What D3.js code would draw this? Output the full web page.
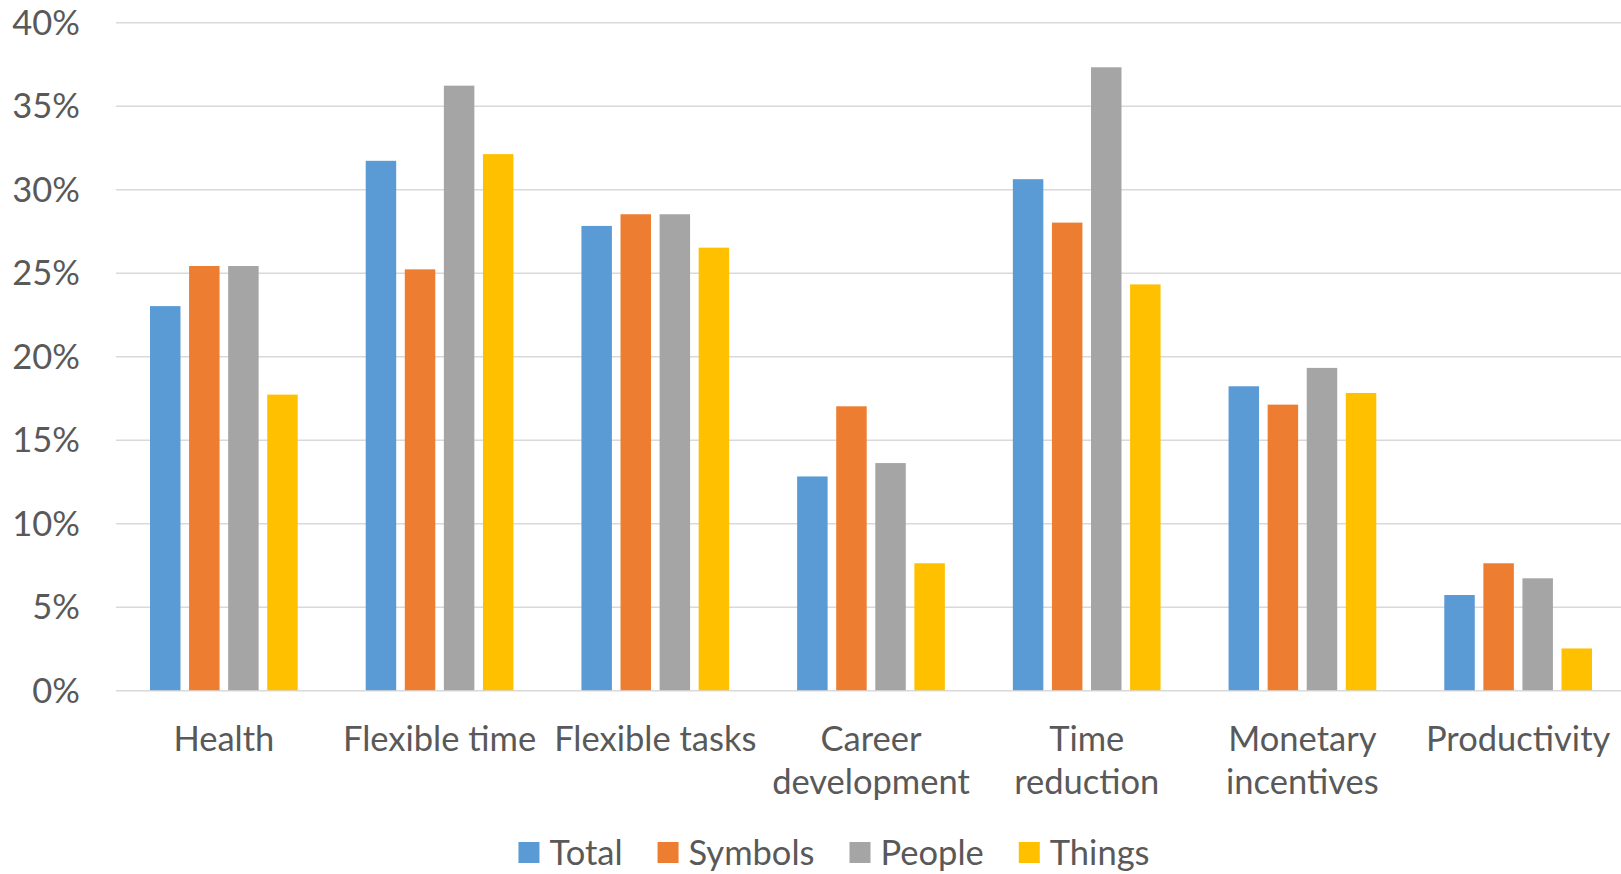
<!DOCTYPE html>
<html>
<head>
<meta charset="utf-8">
<script src="https://cdn.jsdelivr.net/npm/d3@7"></script>
<style>
  html, body { margin: 0; padding: 0; background: #fff; }
  svg { display: block; }
  text { font-family: Lato, "Open Sans", sans-serif; fill: #595959; }
</style>
</head>
<body>
<svg id="chart" width="1621" height="874"></svg>
<script>
// Categories (x axis), two-line labels split on "\n"
const categories = [
  "Health",
  "Flexible time",
  "Flexible tasks",
  "Career\ndevelopment",
  "Time\nreduction",
  "Monetary\nincentives",
  "Productivity"
];

// Series names, in legend order
const seriesNames = ["Total", "Symbols", "People", "Things"];

// Share of respondents (%) per category, one array per series
const totalValues   = [23.0, 31.7, 27.8, 12.8, 30.6, 18.2, 5.7];
const symbolsValues = [25.4, 25.2, 28.5, 17.0, 28.0, 17.1, 7.6];
const peopleValues  = [25.4, 36.2, 28.5, 13.6, 37.3, 19.3, 6.7];
const thingsValues  = [17.7, 32.1, 26.5, 7.6, 24.3, 17.8, 2.5];

// Y axis ticks
const yTicks = [0, 5, 10, 15, 20, 25, 30, 35, 40];

const seriesValues = [totalValues, symbolsValues, peopleValues, thingsValues];
const colors = ["#5B9BD5", "#ED7D31", "#A5A5A5", "#FFC000"];

const FONT_SIZE = 34.5;

const svg = d3.select("#chart");

const plot = { left: 116, right: 1626, top: 22.2, bottom: 690.2 };

const y = d3.scaleLinear().domain([0, 40]).range([plot.bottom, plot.top]);

const x0 = d3.scaleBand()
  .domain(categories)
  .range([plot.left, plot.right])
  .padding(0);

const x1 = d3.scaleBand()
  .domain(seriesNames)
  .range([0, x0.bandwidth()])
  .paddingInner(0.22)
  .paddingOuter(0.87);

const color = d3.scaleOrdinal().domain(seriesNames).range(colors);

// Gridlines and y tick labels
const yAxis = d3.axisLeft(y)
  .tickValues(yTicks)
  .tickSize(-(1621 - plot.left))
  .tickPadding(36)
  .tickFormat(d => d + "%");

const yG = svg.append("g")
  .attr("transform", `translate(${plot.left},0)`)
  .call(yAxis);
yG.select(".domain").remove();
yG.selectAll(".tick line")
  .attr("stroke", "#D9D9D9")
  .attr("stroke-width", 1.4);
yG.selectAll(".tick text")
  .attr("font-size", FONT_SIZE)
  .attr("fill", "#595959")
  .attr("font-family", "Lato, 'Open Sans', sans-serif")
  .attr("dy", "0.35em");

// Bars
const rows = categories.map((c, i) => ({
  category: c,
  values: seriesNames.map((s, j) => ({ series: s, value: seriesValues[j][i] }))
}));

const groups = svg.append("g")
  .selectAll("g")
  .data(rows)
  .join("g")
  .attr("transform", d => `translate(${x0(d.category)},0)`);

groups.selectAll("rect")
  .data(d => d.values)
  .join("rect")
  .attr("x", d => x1(d.series))
  .attr("width", x1.bandwidth())
  .attr("y", d => y(d.value))
  .attr("height", d => y(0) - y(d.value))
  .attr("fill", d => color(d.series));

// Category labels
const catLabels = svg.append("g")
  .selectAll("text")
  .data(categories)
  .join("text")
  .attr("x", d => x0(d) + x0.bandwidth() / 2)
  .attr("y", 751)
  .attr("text-anchor", "middle")
  .attr("font-size", FONT_SIZE);

catLabels.selectAll("tspan")
  .data(d => d.split("\n"))
  .join("tspan")
  .attr("x", function () { return d3.select(this.parentNode).attr("x"); })
  .attr("dy", (d, i) => i === 0 ? 0 : 43)
  .text(d => d);

// Legend
const legend = svg.append("g");
const legendItems = legend.selectAll("g")
  .data(seriesNames)
  .join("g");

legendItems.append("rect")
  .attr("width", 21)
  .attr("height", 21)
  .attr("y", 842)
  .attr("fill", d => color(d));

legendItems.append("text")
  .attr("x", 31)
  .attr("y", 864.5)
  .attr("font-size", FONT_SIZE)
  .text(d => d);

let cursor = 0;
legendItems.each(function () {
  const g = d3.select(this);
  g.attr("transform", `translate(${cursor},0)`);
  const w = g.select("text").node().getComputedTextLength();
  cursor += 31 + w + 35;
});
const legendWidth = cursor - 35;
legend.attr("transform", `translate(${834 - legendWidth / 2},0)`);
</script>
</body>
</html>
